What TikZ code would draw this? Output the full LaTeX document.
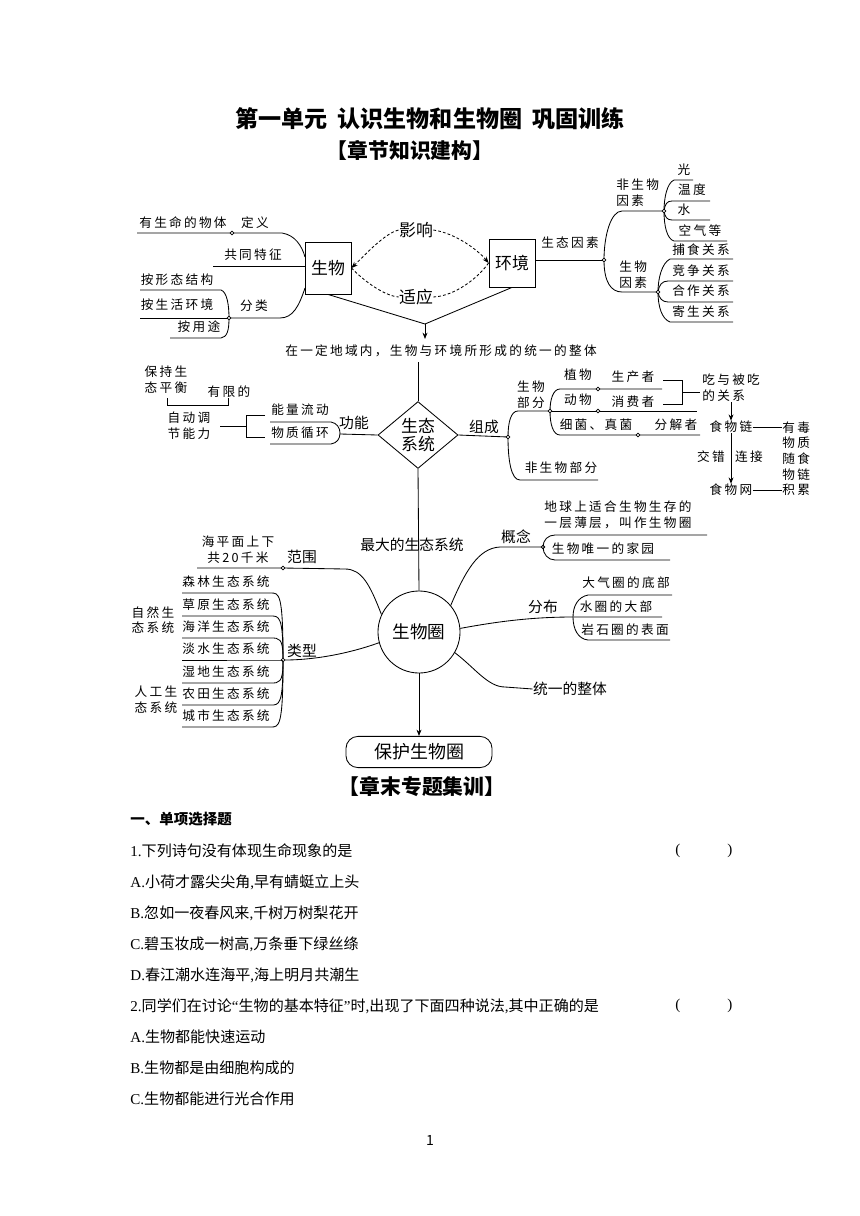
\documentclass[tikz,border=0pt]{standalone}
\usepackage{fontspec}
\setmainfont{Liberation Serif}
\newfontfamily\cjk{Noto Sans CJK SC}
\newfontfamily\cjksp{Noto Sans CJK SC}[LetterSpace=18]
\newcommand\lat[1]{{\rmfamily #1}}
\usetikzlibrary{shapes.geometric, arrows.meta, positioning}

\begin{document}
\begin{tikzpicture}[x=0.025cm, y=-0.025cm, line width=0.6pt,
    titulo/.style={font=\cjk\bfseries\fontsize{16.4}{18}\selectfont, inner sep=0pt},
    seccion/.style={font=\cjk\bfseries\fontsize{14.8}{18}\selectfont, inner sep=0pt},
    box/.style={rectangle, draw, minimum width=1.15cm, inner sep=0pt, font=\cjk\fontsize{12}{14}\selectfont},
    diamante/.style={diamond, draw, minimum width=2cm, minimum height=1.6cm, inner sep=0pt, align=center, font=\cjk\fontsize{12}{12.5}\selectfont},
    circulo/.style={circle, draw, minimum size=2.05cm, inner sep=0pt, font=\cjk\fontsize{12.5}{14}\selectfont},
    final/.style={rectangle, draw, rounded corners=0.3cm, minimum width=3.65cm, minimum height=0.78cm, inner sep=0pt, font=\cjk\fontsize{12.8}{14}\selectfont},
    txt/.style={font=\cjksp\fontsize{9}{11.2}\selectfont, inner sep=0pt},
    txtg/.style={font=\cjk\fontsize{10.5}{13}\selectfont, inner sep=0pt},
    preg/.style={anchor=west, font=\cjk\fontsize{10.7}{13}\selectfont, inner sep=0pt},
    nudo/.style={circle, draw, fill=white, inner sep=0pt, minimum size=2.6pt, line width=0.5pt},
    punteada/.style={dash pattern=on 2pt off 1.5pt},
    flecha/.style={-{Stealth[length=4.5pt, width=3.5pt]}}
]
    \fill[white] (0,0) rectangle (860,1216);
    \useasboundingbox (0,0) rectangle (860,1216);

    \node[titulo] (tit) at (430,119) {第一单元\hspace{0.45em}认识生物和生物圈\hspace{0.45em}巩固训练};
    \node[seccion] (sec1) at (410,150) {【章节知识建构】};

    \node[box, minimum height=1.3cm] (sw) at (328,268) {生物};
    \node[box, minimum height=1.2cm] (hj) at (512,263) {环境};
    \node[txtg, font=\cjk\fontsize{12}{14}\selectfont] (yx) at (416,230) {影响};
    \node[txtg, font=\cjk\fontsize{12}{14}\selectfont] (sy) at (416,297) {适应};
    \draw[punteada, {Stealth[length=4.5pt, width=3.5pt]}-] (sw.east) .. controls (365,255) and (385,233) .. (yx.west);
    \draw[punteada, flecha] (yx.east) .. controls (455,233) and (478,250) .. (hj.west);
    \draw[punteada] (sw.east) .. controls (365,282) and (385,296) .. (sy.west);
    \draw[punteada] (sy.east) .. controls (455,296) and (478,278) .. (hj.west);

    \node[txt] (dy1) at (183,223) {有生命的物体};
    \node[txt] (dy2) at (255,223) {定义};
    \draw (137,233) -- (282,233) .. controls (295,235) and (302,246) .. (305,257);
    \node[nudo] (n1) at (232,233) {};
    \node[txt] (tz) at (253,255) {共同特征};
    \draw (213,266) -- (305,266);
    \node[txt] (fl) at (254,306) {分类};
    \draw (305,288) .. controls (299,306) and (293,318) .. (280,318) -- (229,318);
    \draw (140,290) -- (221,290) .. controls (227,292) and (229,305) .. (229,318) .. controls (229,331) and (227,337) .. (221,338) -- (170,338);
    \draw (140,318) -- (229,318);
    \node[nudo] (n2) at (229,318) {};
    \node[txt] (fl1) at (177,280) {按形态结构};
    \node[txt] (fl2) at (177,305) {按生活环境};
    \node[txt] (fl3) at (199,327) {按用途};

    \node[txt] (styz) at (570,243) {生态因素};
    \draw (536,260) -- (604,260);
    \draw (664,211) -- (622,211) .. controls (611,211) and (604,235) .. (604,260) .. controls (604,282) and (611,292) .. (622,292) -- (658,292);
    \node[nudo] (n3) at (604,260) {};
    \node[txt, anchor=west, align=left] (fsy) at (616,193) {非生物\\因素};
    \node[txt, anchor=west, align=left] (swy) at (619,275) {生物\\因素};
    \draw (693,180) -- (674,180) .. controls (667,183) and (664,198) .. (664,211) .. controls (664,226) and (667,239) .. (674,241) -- (727,241);
    \draw (664,211) .. controls (665,204) and (667,201) .. (672,201) -- (710,201);
    \draw (664,211) .. controls (665,217) and (667,220) .. (672,220) -- (710,220);
    \node[nudo] (n4) at (664,211) {};
    \node[txt] (g1) at (684,170) {光};
    \node[txt] (g2) at (692,190) {温度};
    \node[txt] (g3) at (684,210) {水};
    \node[txt] (g4) at (700,231) {空气等};
    \draw (733,259) -- (670,259) .. controls (662,263) and (658,278) .. (658,292) .. controls (658,307) and (662,319) .. (670,322) -- (733,322);
    \draw (658,292) .. controls (659,285) and (662,281) .. (668,281) -- (733,281);
    \draw (658,292) .. controls (659,298) and (662,302) .. (668,302) -- (733,302);
    \node[nudo] (n5) at (658,292) {};
    \node[txt] (r1) at (701,250) {捕食关系};
    \node[txt] (r2) at (701,271) {竞争关系};
    \node[txt] (r3) at (701,291) {合作关系};
    \node[txt] (r4) at (701,312) {寄生关系};

    \coordinate (m1) at (425,324);
    \coordinate (m2) at (425,339);
    \draw (sw.south) -- (m1) -- (hj.south);
    \draw[flecha] (m1) -- (m2);
    \node[txt] (whole) at (441,351) {在一定地域内，生物与环境所形成的统一的整体};

    \node[diamante] (eco) at (418,435) {生态\\系统};
    \coordinate (c1) at (418,362);
    \draw (c1) -- (eco.north);

    \node[txtg] (gn) at (354,423) {功能};
    \draw (eco.west) -- (340,434);
    \draw (270,422) -- (331,422) .. controls (337,423) and (340,428) .. (340,433) .. controls (340,439) and (337,443) .. (331,444) -- (270,444);
    \node[txt] (nl) at (300,410) {能量流动};
    \node[txt] (wz) at (300,433) {物质循环};
    \draw (265,415) -- (246,415) -- (246,437) -- (265,437);
    \draw (220,426) -- (246,426);
    \node[txt, align=center] (zd) at (189,426) {自动调\\节能力};
    \node[txt, align=center] (bc) at (166,380) {保持生\\态平衡};
    \node[txt] (yxd) at (229,392) {有限的};
    \draw (167,398) -- (167,405) -- (228,405) -- (228,398);

    \node[txtg] (zc) at (484,427) {组成};
    \draw (eco.east) -- (508,437);
    \draw (550,411) -- (518,411) .. controls (511,411) and (508,422) .. (508,437) .. controls (508,460) and (511,480) .. (520,480) -- (598,480);
    \node[nudo] (n6) at (508,437) {};
    \node[txt, align=center] (swbf) at (531,395) {生物\\部分};
    \node[txt] (fsw) at (561,468) {非生物部分};
    \draw (662,389) -- (560,389) .. controls (553,389) and (550,400) .. (550,411) .. controls (550,424) and (553,435) .. (560,435) -- (700,435);
    \draw (550,411) -- (697,411);
    \node[nudo] (n7) at (550,411) {};
    \node[nudo] (n8) at (598,389) {};
    \node[nudo] (n9) at (598,411) {};
    \node[nudo] (n10) at (638,435) {};
    \node[txt] (zw) at (578,375) {植物};
    \node[txt] (scz) at (633,377) {生产者};
    \node[txt] (dw) at (578,400) {动物};
    \node[txt] (xfz) at (633,402) {消费者};
    \node[txt] (xj) at (596,425) {细菌、真菌};
    \node[txt] (fjz) at (676,425) {分解者};
    \draw (663,380) -- (682,380) -- (682,404) -- (663,404);
    \draw (682,392) -- (700,392);
    \node[txt, anchor=west, align=left] (rel) at (702,388) {吃与被吃\\的关系};
    \node[txt] (chain) at (731,427) {食物链};
    \node[txt] (web) at (731,490) {食物网};
    \draw[flecha] (rel.south -| chain) -- (chain.north);
    \draw[flecha] (chain.south) -- (web.north);
    \node[txt] (jc) at (711,457) {交错};
    \node[txt] (lj) at (749,457) {连接};
    \node[txt, anchor=north west, align=left, font=\cjksp\fontsize{9}{11.17}\selectfont] (tox) at (782,421) {有毒\\物质\\随食\\物链\\积累};
    \draw (chain.east) -- (chain.east -| tox.west);
    \draw (web.east) -- (web.east -| tox.west);

    \node[circulo] (bio) at (419,632) {生物圈};
    \draw (eco.south) -- (bio.north);
    \node[txtg] (zd2) at (412,545) {最大的生态系统};
    \node[final] (bh) at (419,752) {保护生物圈};
    \draw[flecha] (bio.south) -- (bh.north);

    \draw (bio.155) .. controls (370,585) and (362,569) .. (345,569) -- (283,568) -- (197,568);
    \node[nudo] (n11) at (283,568) {};
    \node[txtg] (fw) at (302,557) {范围};
    \node[txt, align=center] (hp) at (238,550) {海平面上下\\共20千米};

    \node[nudo] (n12) at (283,660) {};
    \draw (bio.195) .. controls (345,655) and (310,660) .. (n12);
    \foreach \y/\t in {593/森林,616/草原,638/海洋,660/淡水,683/湿地,705/农田,727/城市} {
        \node[txt] (ty\y) at (226,{\y-11}) {\t 生态系统};
        \draw (182,\y) -- (271,\y) .. controls (279,\y) and (283,\y) .. (n12);
    }
    \node[txtg] (lx) at (302,651) {类型};
    \node[txt, align=center] (zr) at (153,620) {自然生\\态系统};
    \node[txt, align=center] (rg) at (156,700) {人工生\\态系统};

    \node[nudo] (n13) at (543,547) {};
    \draw (bio.40) .. controls (465,572) and (478,548) .. (500,547) -- (n13);
    \node[txtg] (gnn) at (516,537) {概念};
    \draw (707,535) -- (555,535) .. controls (548,535) and (543,540) .. (543,547) .. controls (543,554) and (548,560) .. (555,560) -- (670,560);
    \node[txt, anchor=west, align=left] (dq) at (544,515) {地球上适合生物生存的\\一层薄层，叫作生物圈};
    \node[txt] (jy) at (603,549) {生物唯一的家园};

    \draw (bio.5) .. controls (495,622) and (530,617) .. (573,617) -- (662,617);
    \node[txtg] (fb) at (543,607) {分布};
    \draw (672,595) -- (588,595) .. controls (578,597) and (573,606) .. (573,617) .. controls (573,629) and (578,639) .. (588,640) -- (670,640);
    \node[txt] (dqq) at (626,583) {大气圈的底部};
    \node[txt] (sq) at (616,607) {水圈的大部};
    \node[txt] (ysq) at (625,630) {岩石圈的表面};

    \node[txtg] (tyz) at (570,689) {统一的整体};
    \draw (bio.-30) .. controls (475,668) and (488,687) .. (505,687) -- (tyz.west);

    \node[seccion] (sec2) at (422,787) {【章末专题集训】};
    \node[preg, font=\cjk\bfseries\fontsize{10.3}{12}\selectfont] (p1) at (130,819) {一、单项选择题};
    \node[preg] (q1) at (130,851) {\lat{1.}下列诗句没有体现生命现象的是};
    \node[preg] (q1a) at (130,882) {\lat{A.}小荷才露尖尖角\lat{,}早有蜻蜓立上头};
    \node[preg] (q1b) at (130,913) {\lat{B.}忽如一夜春风来\lat{,}千树万树梨花开};
    \node[preg] (q1c) at (130,944) {\lat{C.}碧玉妆成一树高\lat{,}万条垂下绿丝绦};
    \node[preg] (q1d) at (130,975) {\lat{D.}春江潮水连海平\lat{,}海上明月共潮生};
    \node[preg] (q2) at (130,1006) {\lat{2.}同学们在讨论\lat{“}生物的基本特征\lat{”}时\lat{,}出现了下面四种说法\lat{,}其中正确的是};
    \node[preg] (q2a) at (130,1037) {\lat{A.}生物都能快速运动};
    \node[preg] (q2b) at (130,1068) {\lat{B.}生物都是由细胞构成的};
    \node[preg] (q2c) at (130,1099) {\lat{C.}生物都能进行光合作用};
    \node[preg] (pa1) at (675,851) {\lat{(}};
    \node[preg] (pb1) at (727,851) {\lat{)}};
    \node[preg] (pa2) at (675,1006) {\lat{(}};
    \node[preg] (pb2) at (727,1006) {\lat{)}};
    \node[font=\cjk\fontsize{10}{12}\selectfont, inner sep=0pt] (pag) at (430,1140) {1};
\end{tikzpicture}
\end{document}
